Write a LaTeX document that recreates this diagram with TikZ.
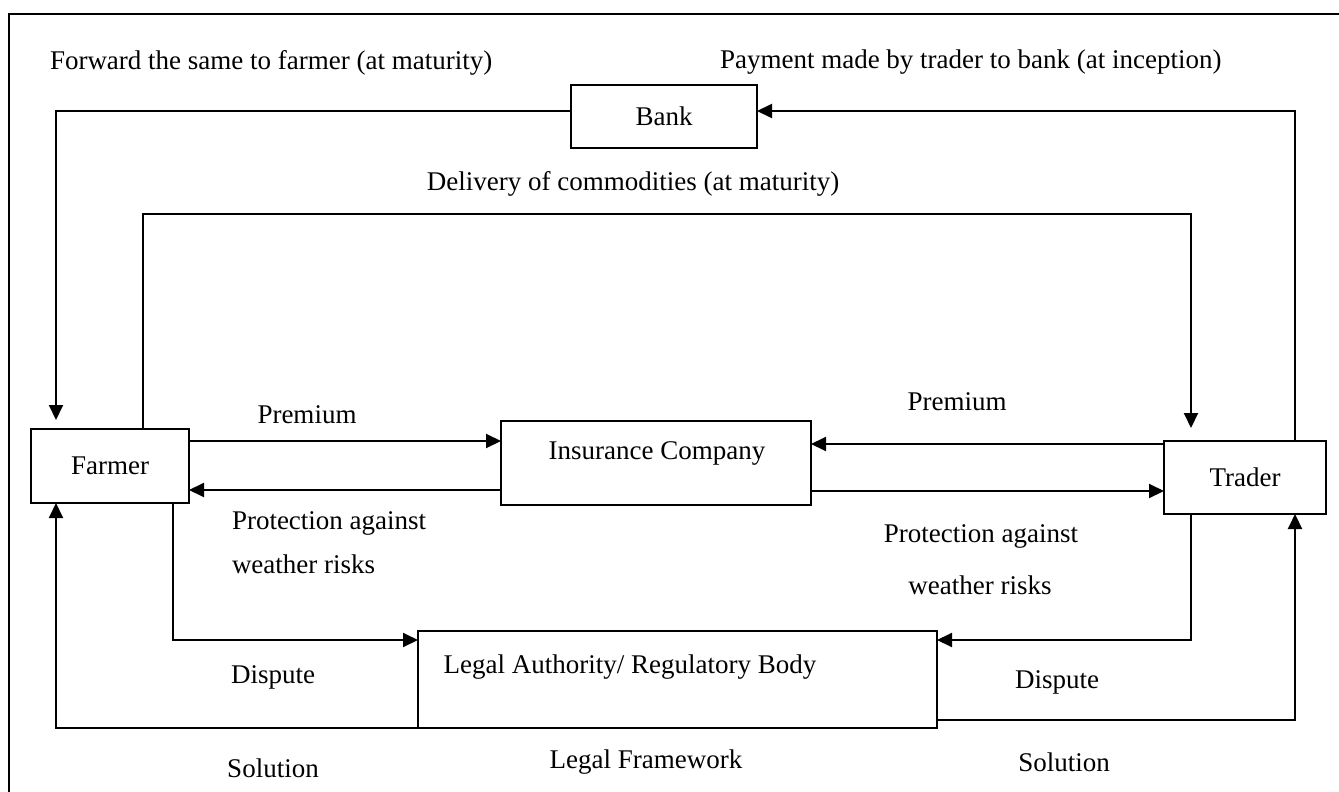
\documentclass[tikz,border=0pt]{standalone}
\usepackage{fontspec}
\setmainfont{Liberation Serif}
\usetikzlibrary{arrows.meta}
\begin{document}
\begin{tikzpicture}[x=1pt,y=-1pt,
  every node/.style={font=\fontsize{27}{32}\selectfont, inner sep=0pt, outer sep=0pt},
  box/.style={draw, line width=2pt},
  arr/.style={line width=2pt, -{Triangle[length=15pt,width=14pt]}},
  lbl/.style={}]
\useasboundingbox (0,0) rectangle (1339,792);
\begin{scope}
\clip (0,0) rectangle (1339,792);
\draw[line width=2.2pt] (9,14) rectangle (1360,810);
\end{scope}
% boxes
\node[box, minimum width=186pt, minimum height=63pt] (bank) at (664,116.5) {Bank};
\node[box, minimum width=158pt, minimum height=74pt] (farmer) at (110,466) {Farmer};
\node[box, minimum width=310pt, minimum height=84pt] (ins) at (656,463) {};
\node (instext) at (657,453) {Insurance Company};
\node[box, minimum width=162pt, minimum height=73pt] (trader) at (1245,477.5) {Trader};
\node[box, minimum width=519pt, minimum height=97pt] (legal) at (677.5,679.5) {};
\node (legaltext) at (630,667) {Legal Authority/ Regulatory Body};
% labels
\node[anchor=west] (fwd) at (50,63) {Forward the same to farmer (at maturity)};
\node[anchor=west] (pay) at (720,62) {Payment made by trader to bank (at inception)};
\node (deliv) at (633,184) {Delivery of commodities (at maturity)};
\node (prem1) at (307,415) {Premium};
\node[anchor=west] (prot1a) at (232,523) {Protection against};
\node[anchor=west] (prot1b) at (232,564) {weather risks};
\node (prem2) at (957,402) {Premium};
\node (prot2a) at (981,536) {Protection against};
\node (prot2b) at (980,585) {weather risks};
\node (disp1) at (273,677) {Dispute};
\node (sol1) at (273,768) {Solution};
\node (disp2) at (1057,682) {Dispute};
\node (sol2) at (1064,762) {Solution};
\node (frame) at (646,762) {Legal Framework};
% connectors
\coordinate (dl) at (143,214);
\draw[arr] ([yshift=5.5pt]bank.west) -| ([xshift=25pt,yshift=9pt]farmer.north west);
\draw[arr] ([xshift=-31pt]trader.north east) |- ([yshift=5.5pt]bank.east);
\draw[arr] ([xshift=112pt]farmer.north west) |- (dl) -| ([xshift=27pt,yshift=13pt]trader.north west);
\draw[arr] ([yshift=25pt]farmer.east) -- ([yshift=25pt]farmer.east -| ins.west);
\draw[arr] ([yshift=-24pt]farmer.east -| ins.west) -- ([yshift=-24pt]farmer.east);
\draw[arr] ([yshift=-3pt]trader.north west) -- ([yshift=-3pt]trader.north west -| ins.east);
\draw[arr] ([yshift=-13.5pt]trader.west -| ins.east) -- ([yshift=-13.5pt]trader.west);
\draw[arr] ([xshift=142pt]farmer.south west) |- ([yshift=-9pt]legal.north west);
\draw[arr] (legal.south west) -| ([xshift=25pt]farmer.south west);
\draw[arr] ([xshift=27pt]trader.south west) |- ([yshift=-9pt]legal.north east);
\draw[arr] ([yshift=8pt]legal.south east) -| ([xshift=-31pt]trader.south east);
\end{tikzpicture}
\end{document}
